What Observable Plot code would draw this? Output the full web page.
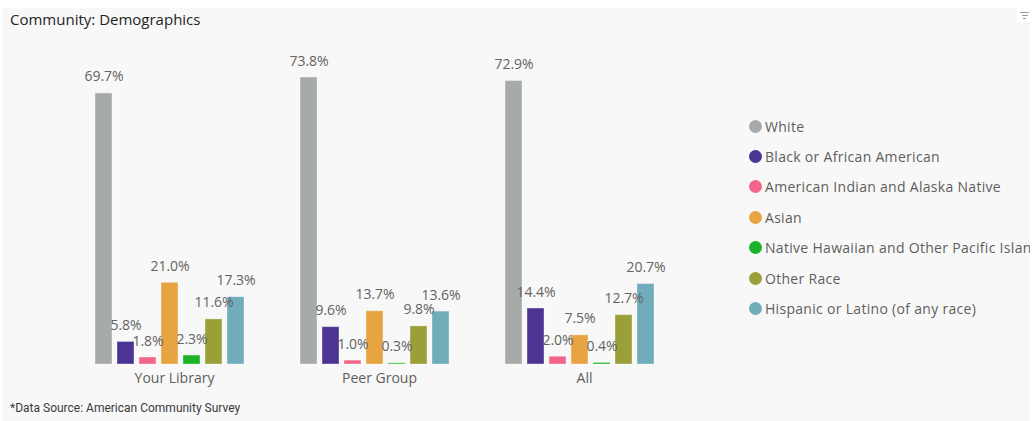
<!DOCTYPE html>
<html><head><meta charset="utf-8">
<script src="https://cdn.jsdelivr.net/npm/d3@7"></script>
<script src="https://cdn.jsdelivr.net/npm/@observablehq/plot@0.6"></script>
<style>
body{margin:0;background:#fff;}
#root{position:relative;width:1032px;height:421px;overflow:hidden;font-family:"Open Sans",sans-serif;background:#fff;}
#panel{position:absolute;left:2px;top:8px;width:1028px;height:413px;background:#f8f8f8;}
#title{position:absolute;left:10px;top:9px;font-size:15px;line-height:20px;color:#252423;white-space:nowrap;}
#foot{position:absolute;left:10px;top:401px;font-family:Roboto,sans-serif;font-size:12px;line-height:14px;color:#3a3a3a;white-space:nowrap;}
#chart{position:absolute;left:0;top:0;}
#legend{position:absolute;left:749px;top:111px;width:281px;overflow:hidden;}
.li{display:flex;align-items:center;height:30.4px;white-space:nowrap;font-size:14px;letter-spacing:0.3px;color:#605e5c;}
.dot{width:13px;height:13px;border-radius:50%;margin-right:3px;flex:none;}
#icon{position:absolute;left:1017px;top:8px;width:14px;height:14px;background:#fff;}
#icon div{position:absolute;height:1px;background:#9a9a9a;}
</style></head>
<body>
<div id="root">
  <div id="panel"></div>
  <div id="title">Community: Demographics</div>
  <div id="icon"><div style="left:3px;top:4px;width:9px"></div><div style="left:5px;top:7px;width:6px"></div><div style="left:6px;top:10px;width:3px"></div></div>
  <div id="chart"></div>
  <div id="legend"></div>
  <div id="foot">*Data Source: American Community Survey</div>
</div>
<script>
const groups = ["Your Library", "Peer Group", "All"];
const races = ["White", "Black or African American", "American Indian and Alaska Native", "Asian", "Native Hawaiian and Other Pacific Islander", "Other Race", "Hispanic or Latino (of any race)"];
const colors = ["#a6abaa", "#4b3494", "#f3668c", "#e8a443", "#1bb428", "#9b9f38", "#70acb9"];
const yourLibrary = [69.7, 5.8, 1.8, 21.0, 2.3, 11.6, 17.3];
const peerGroup = [73.8, 9.6, 1.0, 13.7, 0.3, 9.8, 13.6];
const allLibraries = [72.9, 14.4, 2.0, 7.5, 0.4, 12.7, 20.7];

const series = [yourLibrary, peerGroup, allLibraries];
const data = groups.flatMap((g, i) => series[i].map((v, j) => ({group: g, race: races[j], value: v})));

const hasAxisMark = typeof Plot.axisFx === "function";
const marks = [
  Plot.barY(data, {fx: "group", x: "race", y: "value", fill: "race", stroke: "#ffffff", strokeOpacity: 0.35, strokeWidth: 1}),
  Plot.text(data, {fx: "group", x: "race", y: "value", text: d => d.value.toFixed(1) + "%", lineAnchor: "bottom", dy: -12, fontSize: 14, fill: "#636363"})
];
if (hasAxisMark) marks.push(Plot.axisFx({anchor: "bottom", tickSize: 0, tickPadding: 9, label: null, dx: 4, fontSize: 14, fill: "#605e5c"}));

const chart = Plot.plot({
  width: 720, height: 400,
  marginTop: 77, marginBottom: 36, marginLeft: 44, marginRight: 15,
  style: {background: "transparent", fontFamily: "'Open Sans', sans-serif", fontSize: "14px", color: "#605e5c", overflow: "visible"},
  fx: hasAxisMark
    ? {domain: groups, paddingInner: 0.22, paddingOuter: 0.22, axis: null}
    : {domain: groups, paddingInner: 0.22, paddingOuter: 0.22, axis: "bottom", tickSize: 0, tickPadding: 9, label: null},
  x: {domain: races, paddingInner: 0.215, paddingOuter: 0.1, axis: null},
  y: {domain: [0, 73.8], axis: null},
  color: {domain: races, range: colors},
  marks
});
document.getElementById("chart").appendChild(chart);

const legend = document.getElementById("legend");
races.forEach((r, i) => {
  const row = document.createElement("div");
  row.className = "li";
  const dot = document.createElement("span");
  dot.className = "dot";
  dot.style.background = colors[i];
  const t = document.createElement("span");
  t.textContent = r;
  row.appendChild(dot); row.appendChild(t);
  legend.appendChild(row);
});
</script>
</body></html>
